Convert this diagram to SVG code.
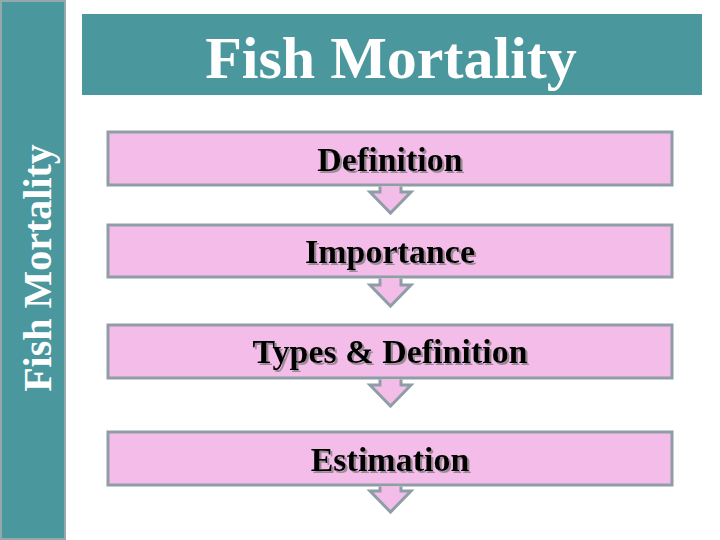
<svg xmlns="http://www.w3.org/2000/svg" width="720" height="540" viewBox="0 0 720 540">
<defs>
<filter id="shadow" x="-10%" y="-30%" width="120%" height="160%">
<feDropShadow dx="2" dy="2" stdDeviation="0.4" flood-color="#9a8a96" flood-opacity="1"/>
</filter>
<style>
.box{fill:#f4bce8;stroke:#8f9ea6;stroke-width:3}
.arrow{fill:#f4bce8;stroke:#8f9ea6;stroke-width:3;stroke-linejoin:miter}
.lbl{font-family:"Liberation Serif","Times New Roman",serif;font-weight:bold;font-size:34px;text-anchor:middle;fill:#000;filter:url(#shadow)}
.ttl{font-family:"Liberation Serif","Times New Roman",serif;font-weight:bold;fill:#fff;text-anchor:middle}
</style>
</defs>
<rect width="720" height="540" fill="#fff"/>
<g id="sidebar">
<rect x="1" y="1" width="64" height="538" fill="#4a989e" stroke="#93a9ae" stroke-width="2"/>
<text class="ttl" font-size="40" transform="translate(51,268) rotate(-90)">Fish Mortality</text>
</g>
<g id="title">
<rect x="82" y="14" width="620" height="81" fill="#4a989e"/>
<text class="ttl" font-size="60" x="391" y="78">Fish Mortality</text>
</g>
<g id="n1">
<rect class="box" x="108" y="132" width="564" height="53"/>
<text class="lbl" x="390" y="171">Definition</text>
</g>
<g id="n2">
<rect class="box" x="108" y="225" width="564" height="52"/>
<text class="lbl" x="390" y="263">Importance</text>
</g>
<g id="n3">
<rect class="box" x="108" y="325" width="564" height="53"/>
<text class="lbl" x="390" y="363">Types &amp; Definition</text>
</g>
<g id="n4">
<rect class="box" x="108" y="432" width="564" height="53"/>
<text class="lbl" x="390" y="471">Estimation</text>
</g>
<g id="connectors">
<path class="arrow" d="M380,186.5 V192 H370 L390.5,213 L411,192 H401 V186.5"/>
<path class="arrow" d="M380,278.5 V285 H370 L390.5,306 L411,285 H401 V278.5"/>
<path class="arrow" d="M380,379.5 V385 H370 L390.5,406 L411,385 H401 V379.5"/>
<path class="arrow" d="M380,486.5 V491 H370 L390.5,512 L411,491 H401 V486.5"/>
</g>
</svg>
